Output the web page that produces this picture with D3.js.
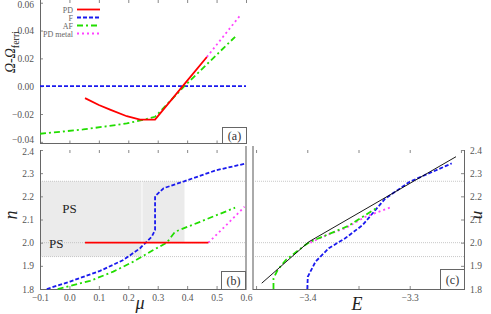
<!DOCTYPE html>
<html><head><meta charset="utf-8">
<script src="https://cdn.jsdelivr.net/npm/d3@7"></script>
<style>body{margin:0;background:#fff}svg{display:block}text{font-family:"Liberation Serif","DejaVu Serif",serif}</style>
</head><body><svg id="c" width="491" height="314"></svg>
<script>
// ---- data ----
const muTicks = [-0.1,0.0,0.1,0.2,0.3,0.4,0.5,0.6];
const omegaTicks = [-0.04,-0.02,0.00,0.02,0.04,0.06];
const nTicks = [1.8,1.9,2.0,2.1,2.2,2.3,2.4];
const eTicks = [-3.4,-3.3];
const eMinorTicks = [-3.45,-3.35,-3.25];
const legendLabels = ["PD","F","AF","PD metal"];
// panel (a): [mu, Omega - Omega_ferri]
const omegaPD = [[0.053,-0.0086],[0.10,-0.0135],[0.138,-0.0168],[0.195,-0.0216],[0.24,-0.0240],[0.291,-0.0240],[0.385,0.0],[0.467,0.021]];
const omegaF = [[-0.1,0],[0.6,0]];
const omegaAF = [[-0.1,-0.0342],[0.047,-0.0311],[0.195,-0.0268],[0.263,-0.0235],[0.291,-0.022],[0.393,0.0005],[0.563,0.0355]];
const omegaPDm = [[0.467,0.021],[0.583,0.0516]];
// panel (b): [mu, n]
const nPD = [[0.053,2.0],[0.472,2.0]];
const nPDm = [[0.472,2.0],[0.53,2.072],[0.595,2.155]];
const nAF = [[-0.04,1.8],[0.07,1.835],[0.149,1.875],[0.217,1.918],[0.285,1.968],[0.331,2.0],[0.359,2.047],[0.444,2.09],[0.563,2.151]];
const nF = [[-0.077,1.8],[0.002,1.832],[0.104,1.878],[0.183,1.925],[0.24,1.976],[0.28,2.026],[0.291,2.055],[0.291,2.2],[0.32,2.235],[0.39,2.265],[0.5,2.313],[0.6,2.342]];
const psRegions = [[-0.1,0.245,1.94,2.265],[0.248,0.391,2.0,2.265]];
const psLabels = [[0.0,2.13],[-0.045,1.975]];
const refLines = [2.265,2.0,1.94];
// panel (c): [E, n]
const eMaxwell = [[-3.4445,1.825],[-3.3984,2.004],[-3.2548,2.371]];
const eAF = [[-3.433,1.8],[-3.433,1.846],[-3.429,1.882],[-3.421,1.925],[-3.402,1.99],[-3.397,2.004],[-3.36,2.072],[-3.333,2.148]];
const ePDm = [[-3.397,2.0],[-3.38,2.035],[-3.363,2.062],[-3.343,2.112],[-3.317,2.155]];
const eF = [[-3.4,1.8],[-3.3995,1.853],[-3.392,1.918],[-3.379,1.976],[-3.363,2.019],[-3.346,2.076],[-3.324,2.19],[-3.3,2.263],[-3.259,2.342]];

// ---- styles ----
const S = {
  PD:{stroke:"#ff0000",dash:null,w:1.8},
  F:{stroke:"#1a1aee",dash:"4,2",w:1.8},
  AF:{stroke:"#22dd00",dash:"6,3,2,3",w:1.8},
  PDm:{stroke:"#ff44ff",dash:"2,3",w:1.8}
};
const svg = d3.select("#c");
const gray = "#555";

const xMu = d3.scaleLinear().domain([-0.1,0.6]).range([40,246]);
const yOm = d3.scaleLinear().domain([-0.0412,0.0616]).range([143.5,0.5]);
const yN = d3.scaleLinear().domain([1.8,2.4]).range([289,150]);
const xE = d3.scaleLinear().domain([-3.453,-3.247]).range([253,464]);

function path(g,data,xs,ys,st){
  g.append("path").datum(data)
   .attr("d",d3.line().x(d=>xs(d[0])).y(d=>ys(d[1])))
   .attr("fill","none").attr("stroke",st.stroke).attr("stroke-width",st.w)
   .attr("stroke-dasharray",st.dash);
}
function ticksText(g){g.selectAll("text").attr("fill",gray).attr("font-size",9.5).attr("font-family","Liberation Serif");
  g.select(".domain").remove(); g.selectAll("line").attr("stroke","#888");}

// ===== panel (a) =====
const ga = svg.append("g");
ga.append("g").attr("transform","translate(0,143.5)").call(d3.axisTop(xMu).tickValues(muTicks).tickSize(3).tickFormat(""))
  .call(g=>{g.select(".domain").remove();g.selectAll("line").attr("stroke","#888");});
ga.append("g").attr("transform","translate(0,0)").call(d3.axisBottom(xMu).tickValues(muTicks).tickSize(3).tickFormat(""))
  .call(g=>{g.select(".domain").remove();g.selectAll("line").attr("stroke","#888");});
ga.append("g").attr("transform","translate(40,0)").call(d3.axisLeft(yOm).tickValues(omegaTicks).tickSize(-3).tickPadding(6).tickFormat(d3.format(".2f")))
  .call(ticksText)
  .call(g=>{g.selectAll(".tick text").filter(d=>d===0.06).attr("dy","0.55em");g.selectAll(".tick text").filter(d=>d===-0.04).attr("dy","0.1em");});
ga.append("line").attr("x1",40.5).attr("x2",40.5).attr("y1",0).attr("y2",143.5).attr("stroke","#666");
ga.append("line").attr("x1",40).attr("x2",246).attr("y1",143.5).attr("y2",143.5).attr("stroke","#666");
const ca = ga.append("g");
path(ca,omegaF,xMu,yOm,S.F);
path(ca,omegaAF,xMu,yOm,S.AF);
path(ca,omegaPDm,xMu,yOm,S.PDm);
path(ca,omegaPD,xMu,yOm,S.PD);
// (a) box
ga.append("rect").attr("x",222.5).attr("y",127.5).attr("width",24).attr("height",16).attr("fill","#fff").attr("stroke","#666");
ga.append("text").attr("x",234.5).attr("y",140).attr("text-anchor","middle").attr("font-size",12).attr("fill","#333").text("(a)");
// legend
const legStyles=[S.PD,S.F,S.AF,S.PDm];
legendLabels.forEach((l,i)=>{
  const y=9.5+i*8;
  ga.append("text").attr("x",73).attr("y",y+3).attr("text-anchor","end").attr("font-size",8).attr("fill","#666").text(l);
  ga.append("line").attr("x1",77).attr("x2",100).attr("y1",y).attr("y2",y)
    .attr("stroke",legStyles[i].stroke).attr("stroke-width",1.8).attr("stroke-dasharray",legStyles[i].dash);
});
// y label
const yl = ga.append("text").attr("transform","translate(15,52) rotate(-90)").attr("text-anchor","middle").attr("font-size",14).attr("fill","#222");
yl.append("tspan").attr("font-style","italic").text("Ω-Ω");
yl.append("tspan").attr("font-size",10).attr("dy",4).text("ferri");

// ===== panel (b) =====
const gb = svg.append("g");
psRegions.forEach(r=>{
  gb.append("rect").attr("x",xMu(r[0])).attr("width",xMu(r[1])-xMu(r[0]))
    .attr("y",yN(r[3])).attr("height",yN(r[2])-yN(r[3])).attr("fill","#ebebeb");
});
const gref = svg.append("g");
refLines.forEach(v=>{
  [[40,246],[253,464]].forEach(([a,b])=>{
    gref.append("line").attr("x1",a).attr("x2",b).attr("y1",yN(v)).attr("y2",yN(v))
      .attr("stroke","#bbb").attr("stroke-width",0.8).attr("stroke-dasharray","1,1");
  });
});
const gb2 = svg.append("g");
psLabels.forEach(p=>{
  gb2.append("text").attr("x",xMu(p[0])).attr("y",yN(p[1])).attr("text-anchor","middle").attr("font-size",13).attr("fill","#222").text("PS");
});
gb2.append("g").attr("transform","translate(0,289)").call(d3.axisBottom(xMu).tickValues(muTicks).tickSize(-3).tickPadding(5).tickFormat(d3.format(".1f")))
  .call(ticksText);
gb2.append("g").attr("transform","translate(0,150)").call(d3.axisBottom(xMu).tickValues(muTicks).tickSize(3).tickFormat(""))
  .call(g=>{g.select(".domain").remove();g.selectAll("line").attr("stroke","#888");});
gb2.append("g").attr("transform","translate(40,0)").call(d3.axisLeft(yN).tickValues(nTicks).tickSize(-3).tickPadding(6).tickFormat(d3.format(".1f")))
  .call(ticksText)
  .call(g=>{g.selectAll(".tick text").filter(d=>d===2.4).attr("dy","0.5em");});
gb2.append("line").attr("x1",40.5).attr("x2",40.5).attr("y1",150).attr("y2",289).attr("stroke","#666");
gb2.append("line").attr("x1",40).attr("x2",246).attr("y1",289.5).attr("y2",289.5).attr("stroke","#666");
gb2.append("line").attr("x1",246).attr("x2",246).attr("y1",146).attr("y2",290).attr("stroke","#aaa").attr("stroke-width",2);
path(gb2,nF,xMu,yN,S.F);
path(gb2,nAF,xMu,yN,S.AF);
path(gb2,nPDm,xMu,yN,S.PDm);
path(gb2,nPD,xMu,yN,S.PD);
gb2.append("rect").attr("x",221.5).attr("y",271.5).attr("width",24).attr("height",18).attr("fill","#fff").attr("stroke","#666");
gb2.append("text").attr("x",233.5).attr("y",285).attr("text-anchor","middle").attr("font-size",12).attr("fill","#333").text("(b)");
gb2.append("text").attr("x",13).attr("y",219).attr("transform","rotate(-90,13,215)").attr("text-anchor","middle").attr("font-size",18).attr("font-style","italic").attr("fill","#222").text("n");
gb2.append("text").attr("x",140).attr("y",309).attr("text-anchor","middle").attr("font-size",18).attr("font-style","italic").attr("fill","#222").text("μ");

// ===== panel (c) =====
const gc = svg.append("g");
gc.append("g").attr("transform","translate(0,289)").call(d3.axisBottom(xE).tickValues(eTicks).tickSize(-3).tickPadding(5).tickFormat(d3.format(".1f")))
  .call(ticksText);
gc.append("g").attr("transform","translate(0,289)").call(d3.axisBottom(xE).tickValues(eMinorTicks).tickSize(-3).tickFormat(""))
  .call(g=>{g.select(".domain").remove();g.selectAll("line").attr("stroke","#888");});
gc.append("g").attr("transform","translate(0,150)").call(d3.axisBottom(xE).tickValues(eTicks.concat(eMinorTicks)).tickSize(3).tickFormat(""))
  .call(g=>{g.select(".domain").remove();g.selectAll("line").attr("stroke","#888");});
gc.append("g").attr("transform","translate(464,0)").call(d3.axisRight(yN).tickValues(nTicks).tickSize(-3).tickPadding(6).tickFormat(d3.format(".1f")))
  .call(ticksText);
gc.append("line").attr("x1",253).attr("x2",253).attr("y1",146).attr("y2",290).attr("stroke","#aaa").attr("stroke-width",2);
gc.append("line").attr("x1",253).attr("x2",464).attr("y1",289.5).attr("y2",289.5).attr("stroke","#666");
gc.append("line").attr("x1",464.5).attr("x2",464.5).attr("y1",150).attr("y2",289).attr("stroke","#666");
path(gc,eF,xE,yN,S.F);
path(gc,ePDm,xE,yN,S.PDm);
path(gc,eAF,xE,yN,S.AF);
path(gc,eMaxwell,xE,yN,{stroke:"#000",dash:null,w:0.9});
gc.append("rect").attr("x",440.5).attr("y",269.5).attr("width",24).attr("height",20).attr("fill","#fff").attr("stroke","#666");
gc.append("text").attr("x",452.5).attr("y",284).attr("text-anchor","middle").attr("font-size",12).attr("fill","#333").text("(c)");
gc.append("text").attr("x",357).attr("y",310).attr("text-anchor","middle").attr("font-size",18).attr("font-style","italic").attr("fill","#222").text("E");
gc.append("text").attr("x",479).attr("y",215).attr("dy","0.3em").attr("transform","rotate(90,479,215)").attr("text-anchor","middle").attr("font-size",17).attr("font-style","italic").attr("fill","#222").text("n");
</script></body></html>
